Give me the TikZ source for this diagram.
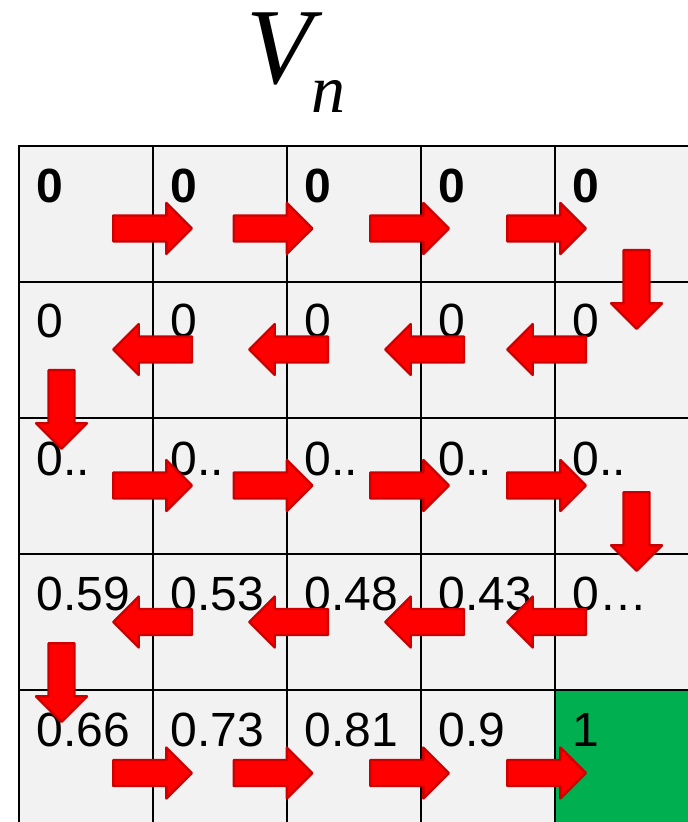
\documentclass[tikz,border=0pt]{standalone}
\usepackage{fontspec}
\setmainfont{Liberation Sans}
\newfontfamily\serifit{Liberation Serif}
\usetikzlibrary{shapes.arrows}
\definecolor{cellgray}{HTML}{F2F2F2}
\definecolor{goalgreen}{HTML}{00B050}
\definecolor{arrowred}{HTML}{FF0000}
\definecolor{arrowedge}{HTML}{CC0000}
\tikzset{
  cell/.style={draw, line width=1pt, fill=cellgray, rectangle, anchor=north west,
    inner sep=0pt, minimum width=67pt, minimum height=68pt},
  val/.style={anchor=base west, inner sep=0pt, font=\fontsize{24}{24}\selectfont},
  valbold/.style={val, font=\fontsize{24}{24}\selectfont\bfseries},
  blockarrow/.style={single arrow, draw=arrowedge, fill=arrowred, line width=1.2pt,
    line join=round, inner xsep=0pt, inner ysep=5.9pt, minimum height=39.3pt,
    minimum width=0pt, single arrow head extend=6.25pt},
  goright/.style={blockarrow},
  goleft/.style={blockarrow, shape border rotate=180},
  godown/.style={blockarrow, shape border rotate=270, inner xsep=5.9pt, inner ysep=0pt},
  titletext/.style={anchor=base west, inner sep=0pt, text depth=0pt},
}

\begin{document}
\begin{tikzpicture}[x=0.5pt,y=-0.5pt]
    \useasboundingbox (0,0) rectangle (688,822);
    \clip (0,0) rectangle (688,822);
    % title
    \node[titletext, text height=36pt, font=\serifit\itshape\fontsize{54}{54}\selectfont] (vsym) at (246,84) {V};
    \node[titletext, text height=16pt, font=\serifit\itshape\fontsize{34}{34}\selectfont] (vsub) at (311,113) {n};
    % grid
    \node[cell] (c11) at (18,145) {};
    \node[cell] (c12) at (152,145) {};
    \node[cell] (c13) at (286,145) {};
    \node[cell] (c14) at (420,145) {};
    \node[cell] (c15) at (554,145) {};
    \node[cell] (c21) at (18,281) {};
    \node[cell] (c22) at (152,281) {};
    \node[cell] (c23) at (286,281) {};
    \node[cell] (c24) at (420,281) {};
    \node[cell] (c25) at (554,281) {};
    \node[cell] (c31) at (18,417) {};
    \node[cell] (c32) at (152,417) {};
    \node[cell] (c33) at (286,417) {};
    \node[cell] (c34) at (420,417) {};
    \node[cell] (c35) at (554,417) {};
    \node[cell] (c41) at (18,553) {};
    \node[cell] (c42) at (152,553) {};
    \node[cell] (c43) at (286,553) {};
    \node[cell] (c44) at (420,553) {};
    \node[cell] (c45) at (554,553) {};
    \node[cell] (c51) at (18,689) {};
    \node[cell] (c52) at (152,689) {};
    \node[cell] (c53) at (286,689) {};
    \node[cell] (c54) at (420,689) {};
    \node[cell, fill=goalgreen] (c55) at (554,689) {};
    % values
    \node[valbold] (v11) at ([shift={(18,58)}]c11.north west) {0};
    \node[valbold] (v12) at ([shift={(18,58)}]c12.north west) {0};
    \node[valbold] (v13) at ([shift={(18,58)}]c13.north west) {0};
    \node[valbold] (v14) at ([shift={(18,58)}]c14.north west) {0};
    \node[valbold] (v15) at ([shift={(18,58)}]c15.north west) {0};
    \node[val] (v21) at ([shift={(18,57)}]c21.north west) {0};
    \node[val] (v22) at ([shift={(18,57)}]c22.north west) {0};
    \node[val] (v23) at ([shift={(18,57)}]c23.north west) {0};
    \node[val] (v24) at ([shift={(18,57)}]c24.north west) {0};
    \node[val] (v25) at ([shift={(18,57)}]c25.north west) {0};
    \node[val] (v31) at ([shift={(18,58)}]c31.north west) {0..};
    \node[val] (v32) at ([shift={(18,58)}]c32.north west) {0..};
    \node[val] (v33) at ([shift={(18,58)}]c33.north west) {0..};
    \node[val] (v34) at ([shift={(18,58)}]c34.north west) {0..};
    \node[val] (v35) at ([shift={(18,58)}]c35.north west) {0..};
    \node[val] (v41) at ([shift={(18,57)}]c41.north west) {0.59};
    \node[val] (v42) at ([shift={(18,57)}]c42.north west) {0.53};
    \node[val] (v43) at ([shift={(18,57)}]c43.north west) {0.48};
    \node[val] (v44) at ([shift={(18,57)}]c44.north west) {0.43};
    \node[val] (v45) at ([shift={(18,57)}]c45.north west) {0…};
    \node[val] (v51) at ([shift={(18,57)}]c51.north west) {0.66};
    \node[val] (v52) at ([shift={(18,57)}]c52.north west) {0.73};
    \node[val] (v53) at ([shift={(18,57)}]c53.north west) {0.81};
    \node[val] (v54) at ([shift={(18,57)}]c54.north west) {0.9};
    \node[val] (v55) at ([shift={(18,57)}]c55.north west) {1};
    % path arrows
    \node[goright] (m1) at (146,228.5) {};
    \node[goright] (m2) at (266.5,228.5) {};
    \node[goright] (m3) at (403,228.5) {};
    \node[goright] (m4) at (540,228.5) {};
    \node[godown] (m5) at (636.5,283) {};
    \node[goleft] (m6) at (553,349.5) {};
    \node[goleft] (m7) at (431,349.5) {};
    \node[goleft] (m8) at (295,349.5) {};
    \node[goleft] (m9) at (159,349.5) {};
    \node[godown] (m10) at (61.5,403) {};
    \node[goright] (m11) at (146,485.5) {};
    \node[goright] (m12) at (266.5,485.5) {};
    \node[goright] (m13) at (403,485.5) {};
    \node[goright] (m14) at (540,485.5) {};
    \node[godown] (m15) at (636.5,525) {};
    \node[goleft] (m16) at (553,622) {};
    \node[goleft] (m17) at (431,622) {};
    \node[goleft] (m18) at (295,622) {};
    \node[goleft] (m19) at (159,622) {};
    \node[godown] (m20) at (61.5,676) {};
    \node[goright] (m21) at (146,773) {};
    \node[goright] (m22) at (266.5,773) {};
    \node[goright] (m23) at (403,773) {};
    \node[goright] (m24) at (540,773) {};
\end{tikzpicture}
\end{document}
